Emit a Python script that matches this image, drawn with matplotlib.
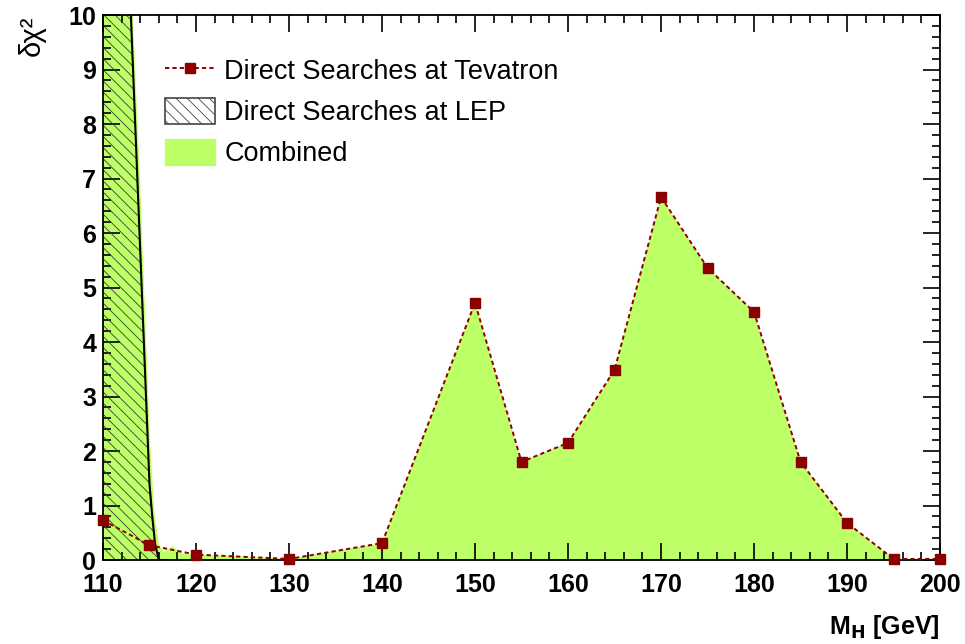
import matplotlib
matplotlib.use("Agg")
import matplotlib.pyplot as plt
import matplotlib.ticker as ticker
from matplotlib.patches import Patch
from matplotlib.lines import Line2D

# Tevatron direct search points
tev_mass = [110, 115, 120, 130, 140, 150, 155, 160, 165, 170, 175, 180, 185, 190, 195, 200]
tev_chi2 = [0.73, 0.27, 0.10, 0.02, 0.31, 4.72, 1.80, 2.15, 3.49, 6.66, 5.36, 4.55, 1.80, 0.68, 0.02, 0.02]

# LEP direct search curve
lep_mass = [110, 112.5, 113.0, 114.0, 115.0, 115.3, 115.6, 116.0, 117.0]
lep_chi2 = [30.0, 12.2, 10.0, 5.7, 1.4, 0.8, 0.3, 0.0, 0.0]

# combined curve
comb_mass = [110, 112.5, 113.2, 114.0, 115.0, 115.5, 116.0, 116.5, 117.5, 118.5, 120,
             130, 140, 150, 155, 160, 165, 170, 175, 180, 185, 190, 195, 200]
comb_chi2 = [30.0, 12.5, 10.0, 6.9, 2.4, 0.9, 0.3, 0.15, 0.25, 0.12, 0.10,
             0.02, 0.31, 4.72, 1.80, 2.15, 3.49, 6.66, 5.36, 4.55, 1.80, 0.68, 0.02, 0.02]

GREEN   = "#bdff66"
DARKRED = "#8b0000"

plt.rcParams["font.family"] = ["Liberation Sans", "DejaVu Sans"]
plt.rcParams["hatch.linewidth"] = 0.6

fig = plt.figure(figsize=(9.65, 6.44), dpi=100)
ax  = fig.add_axes([0.1067, 0.1304, 0.8675, 0.8463])

ax.fill_between(comb_mass, comb_chi2, 0, color=GREEN, linewidth=0, zorder=1)
ax.fill_between(lep_mass, lep_chi2, 0, facecolor="none", edgecolor="#3a3a3a",
                hatch="\\\\\\", linewidth=0, zorder=2)
ax.plot(lep_mass, lep_chi2, color="black", linewidth=1.5, zorder=3)
ax.plot(tev_mass, tev_chi2, color=DARKRED, linestyle=(0, (2.2, 1.6)), linewidth=1.4,
        marker="s", markersize=7, markeredgecolor=DARKRED, zorder=4, clip_on=False)

ax.set_xlim(110, 200)
ax.set_ylim(0, 10)

ax.xaxis.set_major_locator(ticker.MultipleLocator(10))
ax.xaxis.set_minor_locator(ticker.MultipleLocator(2))
ax.yaxis.set_major_locator(ticker.MultipleLocator(1))
ax.yaxis.set_minor_locator(ticker.MultipleLocator(0.2))
ax.tick_params(which="both", direction="in", top=True, right=True, width=1.2)
ax.tick_params(which="major", length=12, labelsize=18)
ax.tick_params(axis="x", which="major", pad=9)
ax.tick_params(axis="y", which="major", pad=5)
ax.tick_params(which="minor", length=6)
for lbl in ax.get_xticklabels() + ax.get_yticklabels():
    lbl.set_fontweight("bold")
for sp in ax.spines.values():
    sp.set_linewidth(1.3)

fig.text(0.033, 0.945, "δχ²", rotation=90, fontsize=21,
         ha="center", va="center")
fig.text(0.974, 0.027, r"M$_\mathbf{H}$ [GeV]", fontsize=18, fontweight="bold",
         ha="right", va="center")

handles = [
    Line2D([0], [0], color=DARKRED, linestyle=(0, (2.2, 1.6)), linewidth=1.4,
           marker="s", markersize=7),
    Patch(facecolor="white", edgecolor="#444444", hatch="\\\\\\", linewidth=1.2),
    Patch(facecolor=GREEN, edgecolor=GREEN),
]
labels = ["Direct Searches at Tevatron", "Direct Searches at LEP", "Combined"]
ax.legend(handles, labels, loc="upper left", bbox_to_anchor=(0.074, 0.923),
          frameon=False, fontsize=19.5, handlelength=1.85, handleheight=1.07,
          labelspacing=0.49, handletextpad=0.35, borderpad=0, borderaxespad=0)

plt.savefig("out.png", dpi=100)
